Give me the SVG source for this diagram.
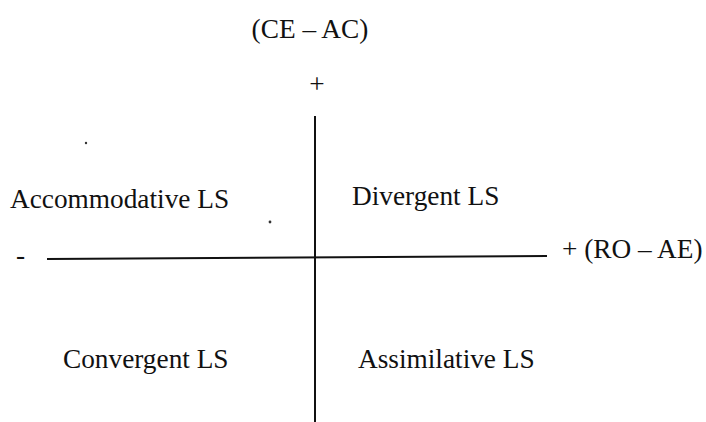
<svg xmlns="http://www.w3.org/2000/svg" width="706" height="422" viewBox="0 0 706 422">
<style>
text{font-family:"Liberation Serif","Times New Roman",serif;font-size:27.3px;fill:#111}
.ax{stroke:#111;stroke-width:2;fill:none}
</style>
<rect width="706" height="422" fill="#fff"/>
<g id="axes">
<line class="ax" x1="315" y1="116" x2="315" y2="422"/>
<line class="ax" x1="47" y1="259" x2="547" y2="256"/>
</g>
<g id="y-label">
<text x="310" y="38" text-anchor="middle">(CE – AC)</text>
<text x="317" y="93" text-anchor="middle">+</text>
</g>
<g id="x-label">
<text x="16" y="264">-</text>
<text x="562" y="258">+ (RO – AE)</text>
</g>
<g id="accommodative"><text x="10" y="208">Accommodative LS</text></g>
<g id="divergent"><text x="352" y="205">Divergent LS</text></g>
<g id="convergent"><text x="63" y="368">Convergent LS</text></g>
<g id="assimilative"><text x="358" y="368">Assimilative LS</text></g>
<circle cx="86" cy="143" r="1.2" fill="#333"/>
<circle cx="270" cy="222" r="1.4" fill="#333"/>
</svg>
